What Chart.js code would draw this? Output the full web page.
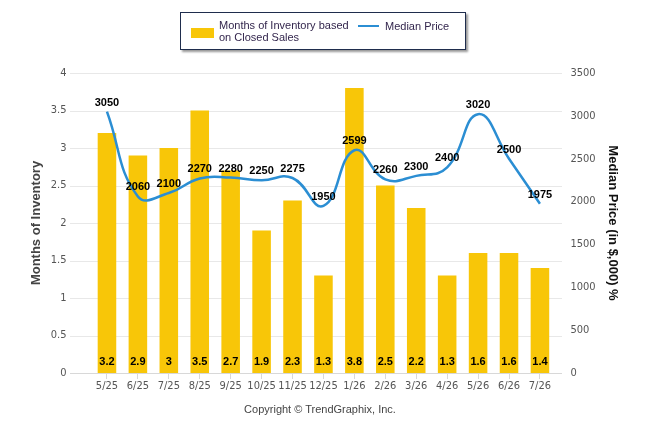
<!doctype html>
<html lang="en">

<head>
    <meta charset="utf-8">
    <title>Months of Inventory / Median Price</title>
    <script src="https://cdn.jsdelivr.net/npm/chart.js"></script>
    <style>
        body { margin: 0; background: #fff; }
        #wrap { position: relative; width: 646px; height: 434px; }
        #legend {
            position: absolute; left: 180px; top: 12px; width: 284px; height: 36px;
            border: 1px solid #1f2d4d; background: #fff; box-shadow: 2px 2px 2px #999;
            font: 11px "Liberation Sans", Arial, sans-serif; color: #33264d;
        }
        #legend .box { position: absolute; left: 10px; top: 15px; width: 23px; height: 10px; background: #f8c608; }
        #legend .t1 { position: absolute; left: 38px; top: 6px; line-height: 12px; }
        #legend .ln { position: absolute; left: 177px; top: 12px; width: 21px; height: 2px; background: #2b8ed3; }
        #legend .t2 { position: absolute; left: 204px; top: 7px; line-height: 12px; }
        #copy {
            position: absolute; left: 0; width: 640px; top: 403px; text-align: center;
            font: 11px "Liberation Sans", Arial, sans-serif; color: #444;
        }
    </style>
</head>

<body>
    <div id="wrap">
        <canvas id="chart" width="646" height="434"></canvas>
        <div id="legend">
            <div class="box"></div>
            <div class="t1">Months of Inventory based<br>on Closed Sales</div>
            <div class="ln"></div>
            <div class="t2">Median Price</div>
        </div>
        <div id="copy">Copyright &copy; TrendGraphix, Inc.</div>
    </div>

    <script>
        const months = ["5/25", "6/25", "7/25", "8/25", "9/25", "10/25", "11/25", "12/25", "1/26", "2/26", "3/26", "4/26", "5/26", "6/26", "7/26"];
        const inventory = [3.2, 2.9, 3, 3.5, 2.7, 1.9, 2.3, 1.3, 3.8, 2.5, 2.2, 1.3, 1.6, 1.6, 1.4];
        const median_price = [3050, 2060, 2100, 2270, 2280, 2250, 2275, 1950, 2599, 2260, 2300, 2400, 3020, 2500, 1975];

        const tick_font = { family: "'Liberation Sans Narrow', 'DejaVu Sans Condensed', sans-serif", size: 11 };
        const label_font = "bold 11px 'Liberation Sans', Arial, sans-serif";

        // horizontal grid lines run a bit wider than the plot area
        const gridPlugin = {
            id: 'wideGrid',
            beforeDatasetsDraw(chart) {
                const ctx = chart.ctx;
                const y = chart.scales.y;
                ctx.save();
                ctx.lineWidth = 1;
                y.ticks.forEach(function (t) {
                    const py = Math.round(y.getPixelForValue(t.value)) + 0.5;
                    ctx.strokeStyle = t.value == 0 ? '#d8d8d8' : '#e8e8e8';
                    ctx.beginPath();
                    ctx.moveTo(70, py);
                    ctx.lineTo(562, py);
                    ctx.stroke();
                });
                ctx.restore();
            }
        };

        const labelPlugin = {
            id: 'valueLabels',
            afterDatasetsDraw(chart) {
                const ctx = chart.ctx;
                const base = chart.scales.y.getPixelForValue(0);
                ctx.save();
                ctx.font = label_font;
                ctx.fillStyle = '#000';
                ctx.textAlign = 'center';
                ctx.textBaseline = 'middle';
                chart.getDatasetMeta(1).data.forEach(function (bar, i) {
                    ctx.fillText(String(inventory[i]), bar.x, base - 11);
                });
                chart.getDatasetMeta(0).data.forEach(function (pt, i) {
                    ctx.fillText(String(median_price[i]), pt.x, pt.y - 9);
                });
                ctx.restore();
            }
        };

        new Chart(document.getElementById('chart'), {
            type: 'bar',
            data: {
                labels: months,
                datasets: [{
                    type: 'line',
                    label: 'Median Price',
                    data: median_price,
                    yAxisID: 'y1',
                    borderColor: '#2b8ed3',
                    borderWidth: 2.5,
                    pointRadius: 0,
                    tension: 0.45,
                    fill: false,
                    order: 1
                }, {
                    label: 'Months of Inventory based on Closed Sales',
                    data: inventory,
                    yAxisID: 'y',
                    backgroundColor: '#f8c608',
                    categoryPercentage: 1,
                    barPercentage: 0.6,
                    order: 2
                }]
            },
            options: {
                responsive: false,
                animation: false,
                layout: { padding: { top: 73, left: 0, right: 0, bottom: 0 } },
                plugins: {
                    legend: { display: false },
                    tooltip: { enabled: false }
                },
                scales: {
                    x: {
                        offset: true,
                        grid: { display: true, drawOnChartArea: false, offset: false, tickLength: 6, color: '#d8d8d8' },
                        border: { display: false },
                        ticks: { color: '#555', font: tick_font, padding: 1, maxRotation: 0, autoSkip: false },
                        afterFit: function (s) { s.height = 61; }
                    },
                    y: {
                        position: 'left',
                        min: 0,
                        max: 4,
                        ticks: {
                            stepSize: 0.5, color: '#555', font: tick_font, padding: 25,
                            callback: function (v) { return String(v); }
                        },
                        grid: { display: false, drawTicks: false },
                        border: { display: false },
                        title: {
                            display: true,
                            text: 'Months of Inventory',
                            color: '#444',
                            font: { family: "'Liberation Sans', Arial, sans-serif", size: 13, weight: 'bold' },
                            padding: { top: 29, bottom: 0 }
                        },
                        afterFit: function (s) { s.width = 91.5; }
                    },
                    y1: {
                        position: 'right',
                        min: 0,
                        max: 3500,
                        ticks: {
                            stepSize: 500, color: '#555', font: tick_font, padding: 15,
                            callback: function (v) { return String(v); }
                        },
                        grid: { display: false, drawTicks: false },
                        border: { display: false },
                        title: {
                            display: true,
                            text: 'Median Price (in $,000) %',
                            color: '#111',
                            font: { family: "'Liberation Sans', Arial, sans-serif", size: 13, weight: 'bold' },
                            padding: { top: 26, bottom: 0 }
                        },
                        afterFit: function (s) { s.width = 90.6; }
                    }
                }
            },
            plugins: [gridPlugin, labelPlugin]
        });
    </script>
</body>

</html>
